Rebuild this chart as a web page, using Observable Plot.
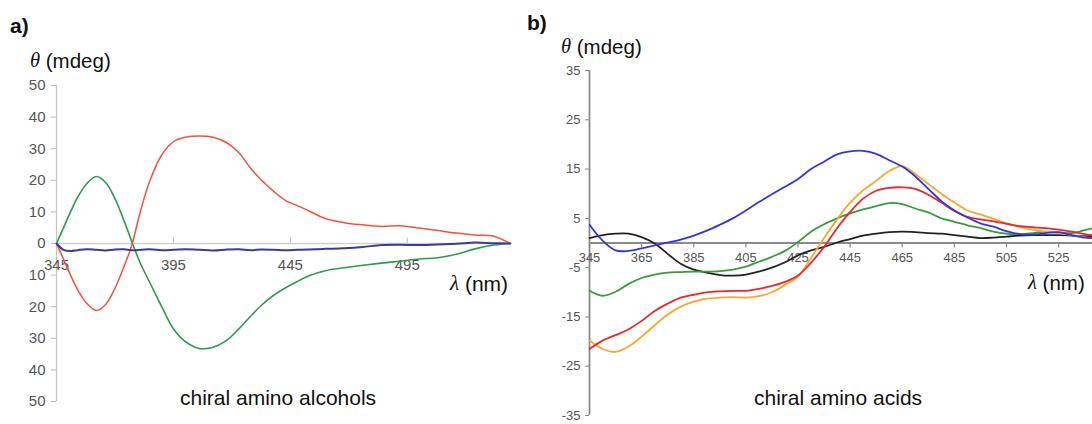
<!DOCTYPE html>
<html>
<head>
<meta charset="utf-8">
<script src="https://cdn.jsdelivr.net/npm/d3@7"></script>
<script src="https://cdn.jsdelivr.net/npm/@observablehq/plot@0.6"></script>
<style>
  html, body { margin: 0; padding: 0; background: #fff; }
  #wrap { position: relative; width: 1092px; height: 424px; overflow: hidden; font-family: "Liberation Sans", Arial, sans-serif; }
  .panel { position: absolute; top: 0; }
  #overlay { position: absolute; left: 0; top: 0; pointer-events: none; }
</style>
</head>
<body>
<div id="wrap">
  <div id="pa" class="panel" style="left:0px"></div>
  <div id="pb" class="panel" style="left:546px"></div>
</div>
<script>
// ---------- Panel a: chiral amino alcohols ----------
const wlA = [345, 348, 351, 354, 358, 362, 366, 370, 374, 377, 381, 385, 390, 395, 400, 406, 412, 418, 423, 428, 433, 438, 443, 448, 453, 460, 468, 476, 484, 492, 500, 508, 516, 524, 532, 539];
const redA = [0, -5, -10, -14.6, -19, -21.2, -19.3, -14.2, -7.0, -1.0, 10.5, 20.0, 28.0, 32.2, 33.6, 34, 33.6, 31.8, 28.7, 23.8, 19.8, 16.4, 13.6, 12.0, 10.3, 7.9, 6.6, 5.9, 5.4, 5.6, 4.9, 4.1, 3.3, 2.7, 2.3, 0];
const greenA = [0, 5, 10, 14.6, 19, 21.2, 19.3, 14.2, 7.0, 1.0, -6.5, -12.5, -20, -27, -31, -33.2, -32.8, -30.5, -27, -23, -19.3, -16.3, -14, -12, -10.2, -8.6, -7.7, -6.9, -6.2, -5.6, -4.9, -4.5, -3.4, -1.7, -0.5, 0];
const blueA = [0, -2.0, -2.4, -2.1, -1.8, -2.0, -2.2, -1.9, -1.8, -2.1, -2.0, -1.8, -2.1, -2.0, -1.8, -2.0, -2.2, -1.9, -1.8, -2.1, -1.9, -2.0, -2.1, -2.0, -1.9, -1.7, -1.5, -1.1, -0.5, -0.4, -0.5, -0.3, -0.1, 0.3, 0.1, 0];
const yTicksA = [50, 40, 30, 20, 10, 0, -10, -20, -30, -40, -50];
const yTickLabelsA = ["50", "40", "30", "20", "10", "0", "10", "20", "30", "40", "50"];
const xTicksA = [345, 395, 445, 495];
const xTickLabelsA = ["345", "395", "445", "495"];

// ---------- Panel b: chiral amino acids ----------
const wlB = [345, 350, 355, 360, 365, 370, 375, 380, 385, 390, 395, 400, 405, 410, 415, 420, 425, 430, 435, 440, 445, 450, 455, 460, 465, 470, 475, 480, 485, 490, 495, 500, 505, 510, 515, 520, 525, 530, 535, 538];
const blueB = [3.7, 0.5, -1.5, -1.6, -1.1, -0.5, 0.1, 0.7, 1.5, 2.5, 3.7, 5.0, 6.6, 8.3, 9.9, 11.4, 13.0, 15.0, 16.5, 18.0, 18.6, 18.7, 18.1, 16.8, 15.5, 13.5, 11.0, 8.5, 6.6, 5.2, 4.0, 3.3, 2.4, 1.8, 1.7, 2.0, 2.2, 1.6, 1.1, 1.0];
const orangeB = [-19.8, -21.5, -22.1, -21, -19, -16.7, -14.5, -12.9, -11.9, -11.3, -11.1, -11, -11.1, -10.8, -10, -8.5, -6.8, -3.0, 1.0, 4.8, 8.2, 10.7, 12.6, 14.6, 15.6, 14.0, 12.0, 10.0, 8.2, 6.6, 5.8, 4.9, 4.0, 3.3, 2.7, 2.3, 2.0, 1.6, 1.2, 1.0];
const redB = [-21.5, -19.8, -18.7, -17.5, -15.8, -13.8, -12.3, -11.1, -10.5, -10.0, -9.8, -9.7, -9.7, -9.3, -8.7, -7.9, -6.6, -4.0, -0.8, 3.0, 6.3, 9.0, 10.6, 11.2, 11.3, 11.0, 9.8, 8.2, 6.5, 5.3, 4.8, 4.4, 3.9, 3.4, 3.2, 3.0, 2.7, 2.3, 1.8, 1.6];
const greenB = [-9.7, -10.7, -9.9, -8.3, -7.1, -6.4, -6.0, -5.9, -5.8, -5.8, -5.7, -5.4, -4.8, -3.8, -2.8, -1.6, 0.2, 2.3, 3.8, 5.0, 6.0, 6.8, 7.5, 8.1, 7.9, 7.0, 6.2, 5.0, 4.3, 3.6, 3.0, 2.3, 1.9, 1.8, 2.0, 2.3, 2.1, 2.0, 2.6, 3.0];
const blackB = [1.0, 1.6, 1.9, 1.9, 1.2, -0.1, -2.2, -4.2, -5.4, -6.0, -6.5, -6.6, -6.4, -5.8, -5.0, -3.9, -2.5, -1.5, -0.8, 0.1, 0.8, 1.5, 1.9, 2.2, 2.3, 2.2, 2.0, 1.9, 1.6, 1.3, 1.0, 1.1, 1.3, 1.5, 1.6, 1.6, 1.6, 1.5, 1.4, 1.4];
const yTicksB = [35, 25, 15, 5, -5, -15, -25, -35];
const yTickLabelsB = ["35", "25", "15", "5", "-5", "-15", "-25", "-35"];
const xTicksB = [345, 365, 385, 405, 425, 445, 465, 485, 505, 525];
const xTickLabelsB = ["345", "365", "385", "405", "425", "445", "465", "485", "505", "525"];

const FONT = "Liberation Sans, Arial, sans-serif";
const pts = (xs, ys) => xs.map((x, i) => [x, ys[i]]);

const chartA = Plot.plot({
  width: 546, height: 424,
  marginLeft: 56, marginRight: 34, marginTop: 85, marginBottom: 23,
  style: {fontFamily: FONT, background: "transparent", overflow: "visible"},
  x: {domain: [345, 540], axis: null},
  y: {domain: [-50, 50], axis: null},
  marks: [
    Plot.ruleX([345], {y1: -50, y2: 50, stroke: "#c4c4c4", strokeWidth: 1.2}),
    Plot.axisY(yTicksA, {anchor: "left", tickSize: 5, tickPadding: 6, stroke: "#bbbbbb",
      fill: "#555", fontSize: 15, label: null,
      tickFormat: d => yTickLabelsA[yTicksA.indexOf(d)]}),
    Plot.ruleY([0], {x1: 345, x2: 540, stroke: "#cfcfcf", strokeWidth: 1.6}),
    Plot.ruleX(xTicksA.slice(1), {x: d => d, y1: 0, y2: 1.7, stroke: "#bbbbbb", strokeWidth: 1}),
    Plot.text(xTicksA, {x: d => d, y: 0, dy: 22, text: (d, i) => xTickLabelsA[i], fill: "#555", fontSize: 15}),
    Plot.line(pts(wlA, greenA), {stroke: "#2f9a4f", strokeWidth: 1.6, curve: "catmull-rom"}),
    Plot.line(pts(wlA, redA), {stroke: "#f2533f", strokeWidth: 1.5, curve: "catmull-rom"}),
    Plot.line(pts(wlA, blueA), {stroke: "#3d3b94", strokeWidth: 2, curve: "catmull-rom"})
  ]
});
document.getElementById("pa").appendChild(chartA);

const chartB = Plot.plot({
  width: 546, height: 424,
  marginLeft: 43, marginRight: 0, marginTop: 70, marginBottom: 9,
  style: {fontFamily: FONT, background: "transparent"},
  x: {domain: [345, 538], axis: null},
  y: {domain: [-35, 35], axis: null},
  marks: [
    Plot.ruleX([345], {y1: -35, y2: 35, stroke: "#8a8a8a", strokeWidth: 1.8}),
    Plot.axisY(yTicksB, {anchor: "left", tickSize: 4, tickPadding: 5, stroke: "#8a8a8a",
      fill: "#555", fontSize: 13, label: null,
      tickFormat: d => yTickLabelsB[yTicksB.indexOf(d)]}),
    Plot.ruleY([0], {stroke: "#8a8a8a", strokeWidth: 2}),
    Plot.ruleX(xTicksB, {x: d => d, y1: 0, y2: -1, stroke: "#8a8a8a", strokeWidth: 1.2}),
    Plot.text(xTicksB, {x: d => d, y: 0, dy: 15, text: (d, i) => xTickLabelsB[i], fill: "#555", fontSize: 13}),
    Plot.line(pts(wlB, blackB), {stroke: "#222222", strokeWidth: 1.8, curve: "catmull-rom", clip: true}),
    Plot.line(pts(wlB, greenB), {stroke: "#3a9b3a", strokeWidth: 1.8, curve: "catmull-rom", clip: true}),
    Plot.line(pts(wlB, orangeB), {stroke: "#f7a733", strokeWidth: 1.8, curve: "catmull-rom", clip: true}),
    Plot.line(pts(wlB, redB), {stroke: "#e8282b", strokeWidth: 1.8, curve: "catmull-rom", clip: true}),
    Plot.line(pts(wlB, blueB), {stroke: "#3535e0", strokeWidth: 1.8, curve: "catmull-rom", clip: true})
  ]
});
document.getElementById("pb").appendChild(chartB);

// ---------- Annotations ----------
const notes = [
  {x: 10, y: 25, parts: [["a)", "bold", "normal", FONT]], size: 21},
  {x: 30, y: 60, parts: [["θ", "normal", "italic", "Liberation Serif, serif"], [" (mdeg)", "normal", "normal", FONT]], size: 20.5},
  {x: 450, y: 283, parts: [["λ", "normal", "italic", "Liberation Serif, serif"], [" (nm)", "normal", "normal", FONT]], size: 21},
  {x: 180, y: 397, parts: [["chiral amino alcohols", "normal", "normal", FONT]], size: 21},
  {x: 527, y: 22, parts: [["b)", "bold", "normal", FONT]], size: 21},
  {x: 561, y: 46, parts: [["θ", "normal", "italic", "Liberation Serif, serif"], [" (mdeg)", "normal", "normal", FONT]], size: 20.5},
  {x: 1028, y: 282, parts: [["λ", "normal", "italic", "Liberation Serif, serif"], [" (nm)", "normal", "normal", FONT]], size: 20.5},
  {x: 754, y: 397, parts: [["chiral amino acids", "normal", "normal", FONT]], size: 21}
];
const ov = d3.select("#wrap").append("svg").attr("id", "overlay").attr("width", 1092).attr("height", 424);
notes.forEach(n => {
  const t = ov.append("text").attr("x", n.x).attr("y", n.y).attr("dominant-baseline", "central")
    .attr("font-size", n.size).attr("fill", "#111").style("white-space", "pre");
  n.parts.forEach(p => t.append("tspan").text(p[0]).attr("font-weight", p[1]).attr("font-style", p[2]).attr("font-family", p[3]));
});
</script>
</body>
</html>
